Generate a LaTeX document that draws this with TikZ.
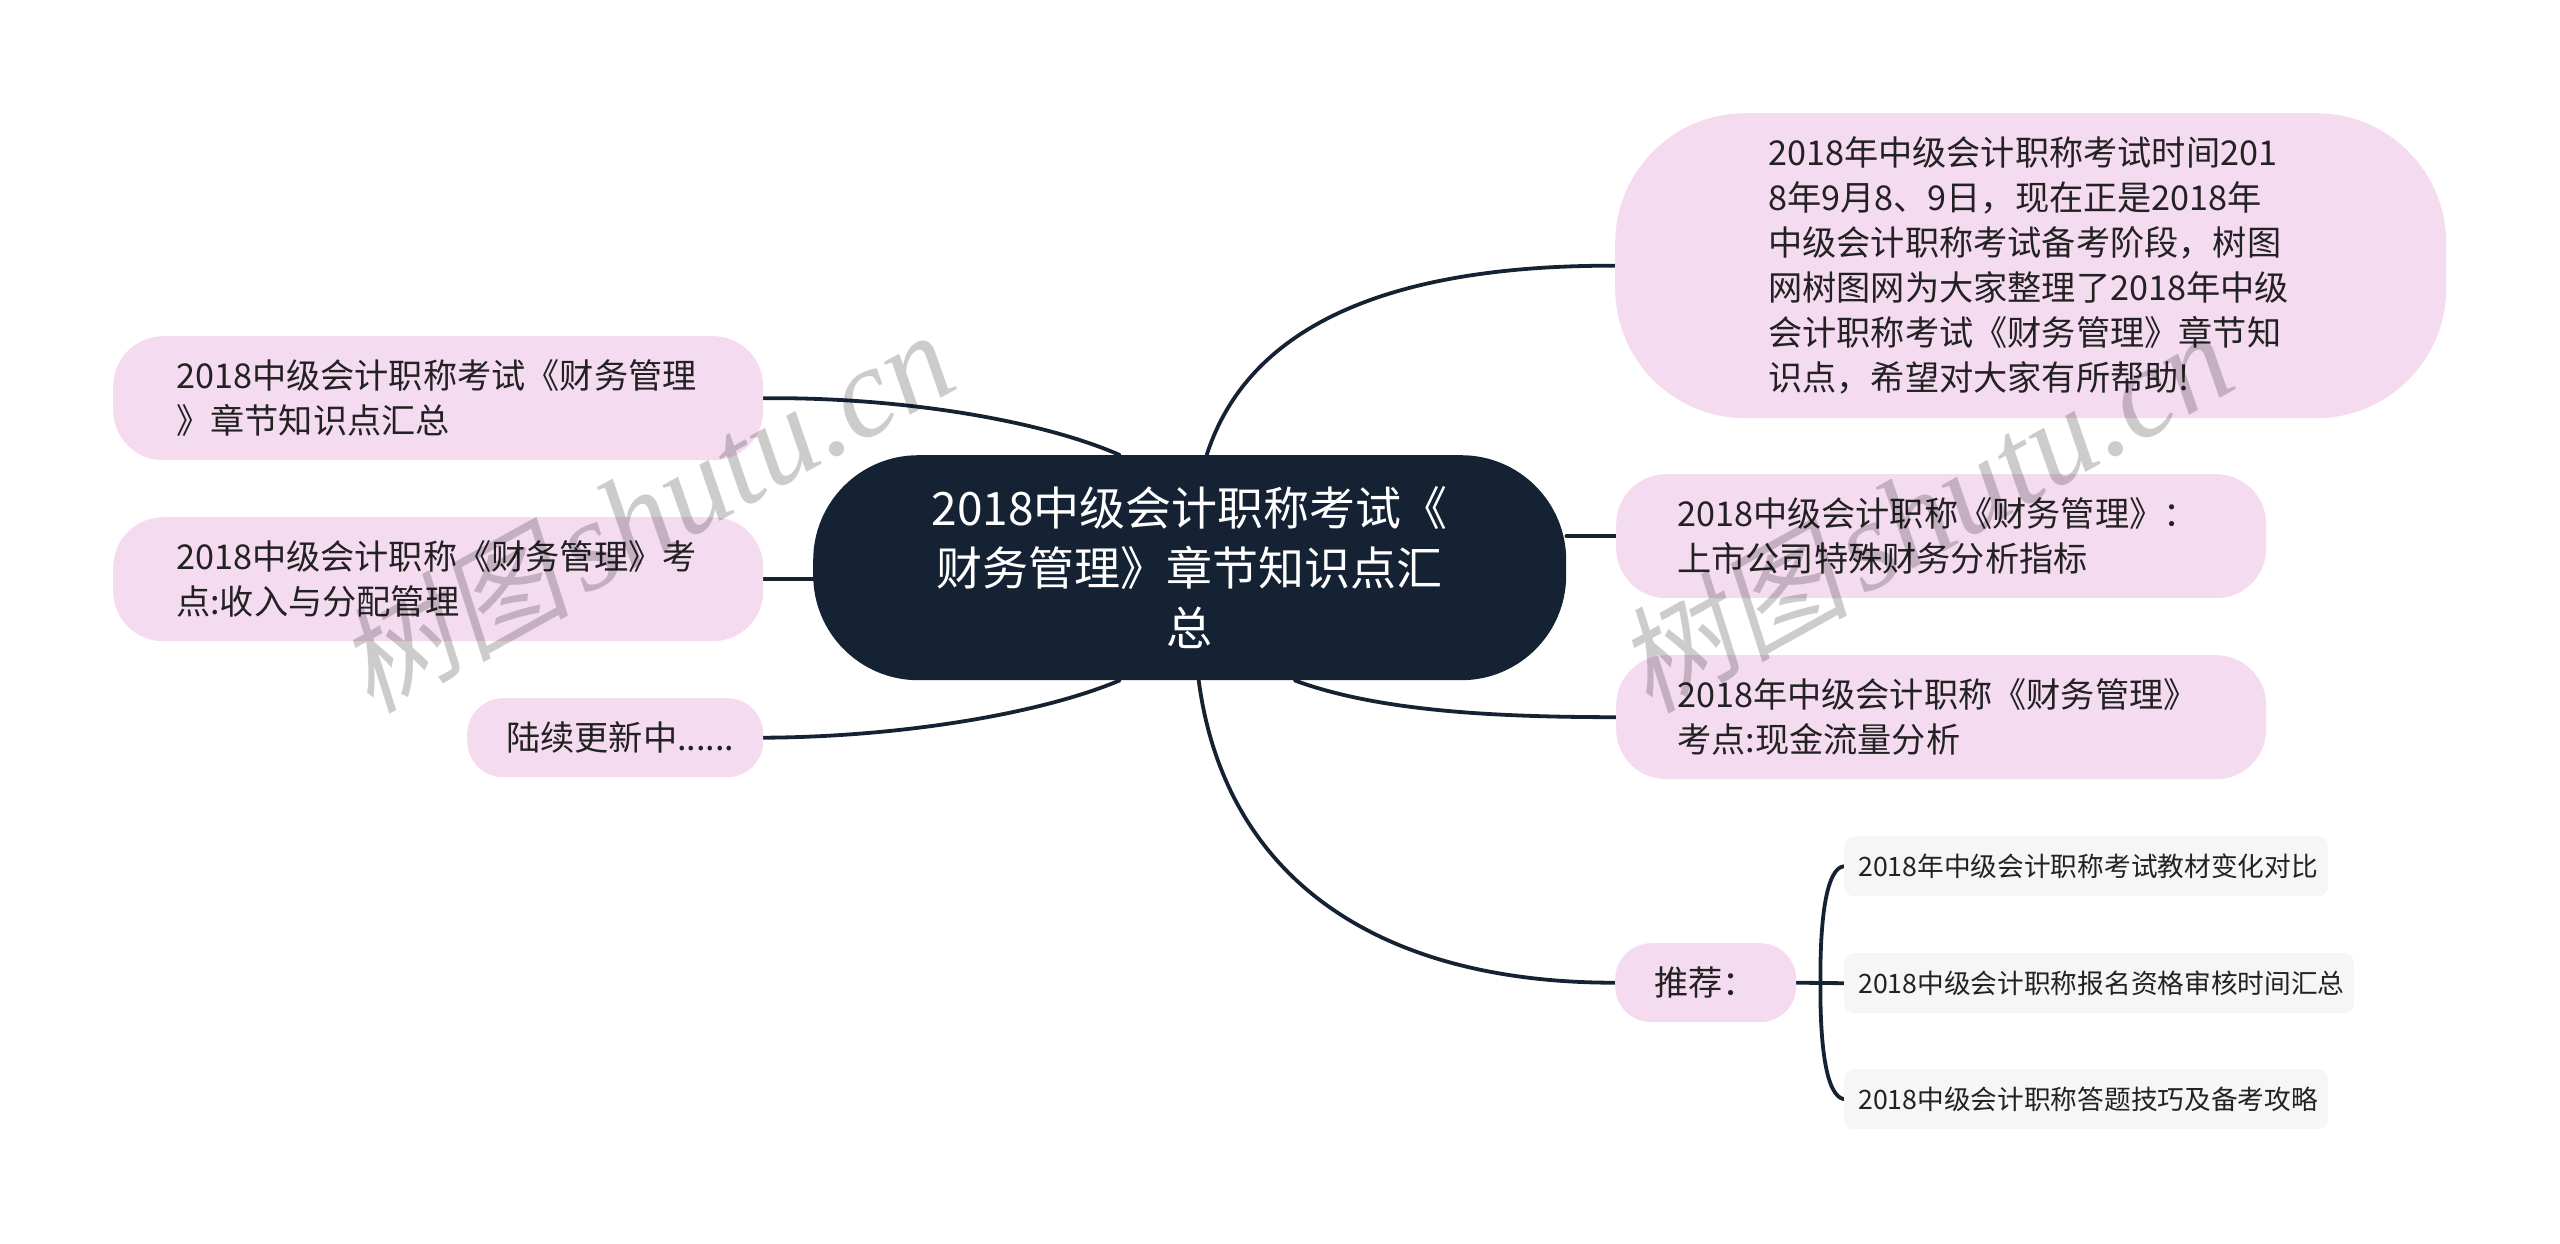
\documentclass[tikz,border=0pt]{standalone}
\usepackage{fontspec}
\setmainfont{Noto Sans CJK SC}
\newfontfamily\wmcjk{Noto Sans CJK SC}[FakeSlant=0.2]
\newfontfamily\wmlat{Liberation Serif Italic}
\usetikzlibrary{calc}
\pgfdeclarelayer{bg}
\pgfsetlayers{bg,main}
\definecolor{pinkfill}{HTML}{F5DBF0}
\definecolor{navy}{HTML}{142233}
\definecolor{leaffill}{HTML}{F6F6F6}
\definecolor{inktext}{HTML}{222222}
\tikzset{
  rootbox/.style={fill=navy,text=white,rounded corners=105pt,inner sep=0pt,align=center,text width=540pt,minimum width=753pt,minimum height=225pt,anchor=north west,font=\fontsize{46}{60}\selectfont},
  pinkbox/.style={fill=pinkfill,text=inktext,inner ysep=0pt,align=left,anchor=north west,font=\fontsize{34.2}{45}\selectfont},
  leafbox/.style={fill=leaffill,text=inktext,rounded corners=10pt,inner ysep=0pt,inner xsep=14pt,align=left,anchor=north west,minimum height=60pt,font=\fontsize{26.7}{34}\selectfont},
  link/.style={draw=navy,line width=3.8pt,line cap=round},
  stamp/.style={text=black,text opacity=0.2,rotate=29,inner sep=0pt}
}
\newcommand{\stamptext}{{\fontsize{116}{116}\selectfont\wmcjk 树图}\hspace{14pt}{\fontsize{128}{128}\selectfont\wmlat shutu.cn}}
\begin{document}
\begin{tikzpicture}[x=1pt,y=-1pt]
\path[use as bounding box] (0,0) rectangle (2560,1243);

\node[rootbox] (root) at (813,455) {2018中级会计职称考试《\\财务管理》章节知识点汇\\总};

\node[pinkbox,rounded corners=50pt,inner xsep=63pt,text width=524pt,minimum height=124pt] (l1) at (113,336) {2018中级会计职称考试《财务管理\\》章节知识点汇总};
\node[pinkbox,rounded corners=50pt,inner xsep=63pt,text width=524pt,minimum height=124pt] (l2) at (113,517) {2018中级会计职称《财务管理》考\\点:收入与分配管理};
\node[pinkbox,rounded corners=36pt,inner xsep=39pt,text width=218pt,minimum height=79pt] (l3) at (467,698) {陆续更新中......};

\node[pinkbox,rounded corners=130pt,inner xsep=153pt,text width=525pt,minimum height=305pt] (r1) at (1615,113) {2018年中级会计职称考试时间201\\8年9月8、9日^^^^ff0c现在正是2018年\\中级会计职称考试备考阶段^^^^ff0c树图\\网树图网为大家整理了2018年中级\\会计职称考试《财务管理》章节知\\识点^^^^ff0c希望对大家有所帮助!};
\node[pinkbox,rounded corners=50pt,inner xsep=61pt,text width=528pt,minimum height=124pt] (r2) at (1616,474) {2018中级会计职称《财务管理》^^^^ff1a\\上市公司特殊财务分析指标};
\node[pinkbox,rounded corners=50pt,inner xsep=61pt,text width=528pt,minimum height=124pt] (r3) at (1616,655) {2018年中级会计职称《财务管理》\\考点:现金流量分析};
\node[pinkbox,rounded corners=36pt,inner xsep=39pt,text width=103pt,minimum height=79pt] (rec) at (1615,943) {推荐^^^^ff1a};

\node[leafbox,text width=456pt] (a) at (1844,836) {2018年中级会计职称考试教材变化对比};
\node[leafbox,text width=482pt] (b) at (1844,953) {2018中级会计职称报名资格审核时间汇总};
\node[leafbox,text width=456pt] (c) at (1844,1069) {2018中级会计职称答题技巧及备考攻略};

\coordinate (trunk) at ($(rec.east)+(24,0)$);

\begin{pgfonlayer}{bg}
\draw[link] (l1.east) .. controls (900,397) and (1040,420) .. ([xshift=-70pt]root.north);
\draw[link] (l2.east) -- (l2.east -| root.west);
\draw[link] (l3.east) .. controls (900,737) and (1040,714) .. ([xshift=-70pt]root.south);
\draw[link] ([xshift=17pt]root.north) .. controls (1250,320) and (1400,265) .. (r1.west);
\draw[link] (r2.west -| root.east) -- (r2.west);
\draw[link] ([xshift=105pt]root.south) .. controls (1380,712) and (1500,717) .. (r3.west);
\draw[link] ([xshift=9pt]root.south) .. controls (1225,880) and (1380,983) .. (rec.west);
\draw[link] (rec.east) -- (b.west);
\draw[link] (a.west) .. controls (1826,868) and (1820,920) .. (trunk);
\draw[link] (c.west) .. controls (1826,1096) and (1820,1046) .. (trunk);
\end{pgfonlayer}

\node[stamp] (wm1) at (645,512) {\stamptext};
\node[stamp] (wm2) at (1924,512) {\stamptext};
\end{tikzpicture}
\end{document}
